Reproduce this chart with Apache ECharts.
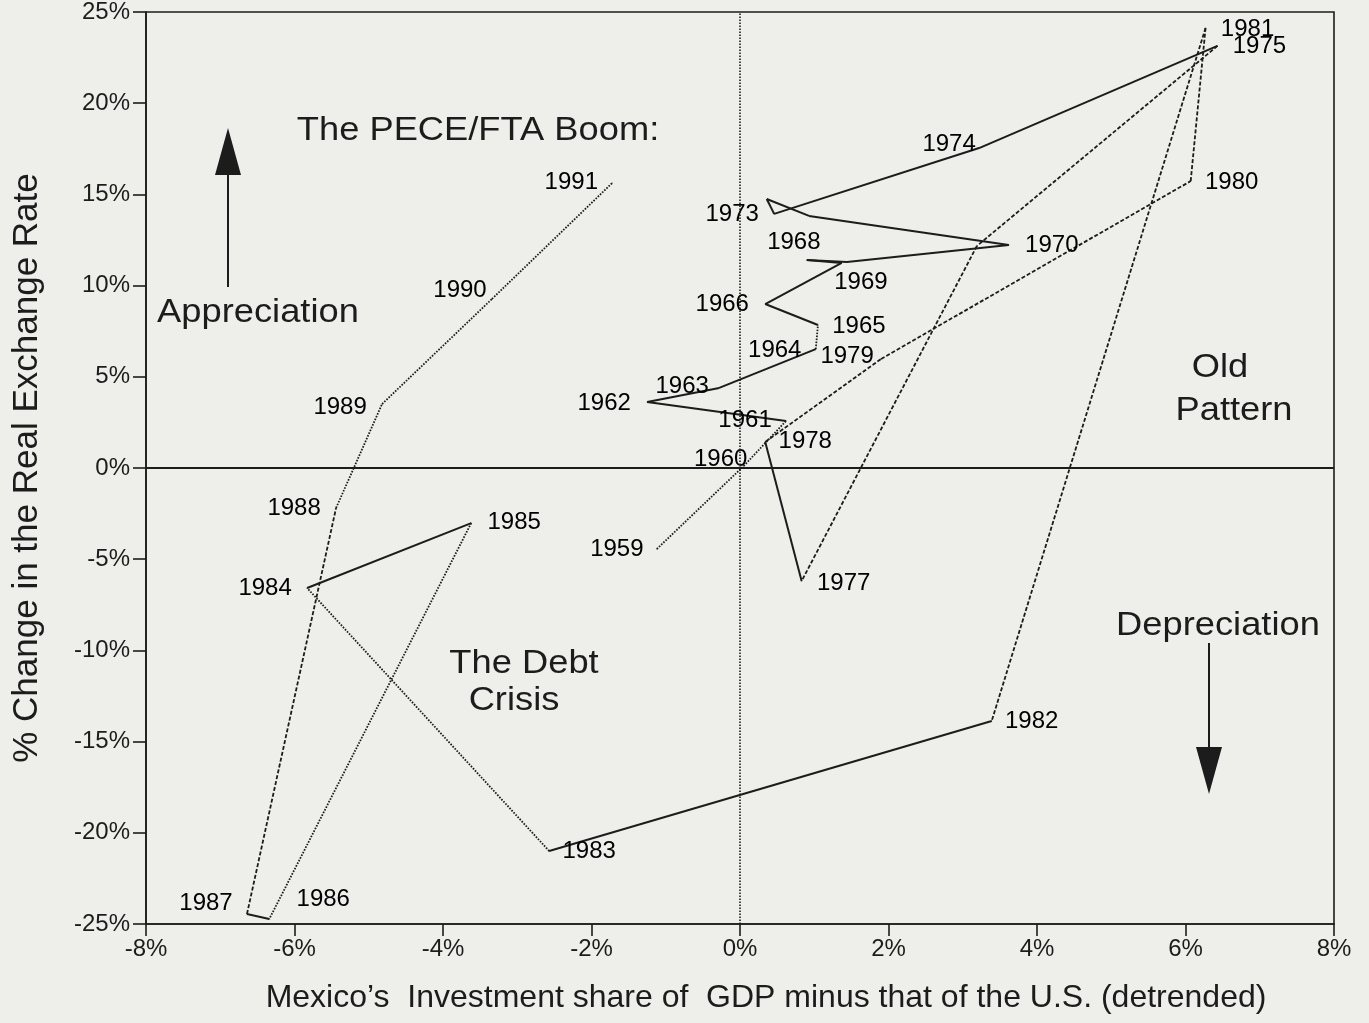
<!DOCTYPE html>
<html>
<head>
<meta charset="utf-8">
<script src="https://cdn.jsdelivr.net/npm/echarts@6/dist/echarts.min.js"></script>
<style>
  html, body { margin: 0; padding: 0; background: #eeeeea; }
  #chart { width: 1369px; height: 1023px; }
</style>
</head>
<body>
<div id="chart"></div>
<script>
// years along the path
const years = [1959, 1960, 1961, 1962, 1963, 1964, 1965, 1966, 1967, 1968, 1969,
  1970, 1971, 1972, 1973, 1974, 1975, 1976, 1977, 1978, 1979, 1980,
  1981, 1982, 1983, 1984, 1985, 1986, 1987, 1988, 1989, 1990, 1991]
// investment share of GDP minus the U.S. (detrended), %
const investGap = [-1.12, 0.05, 0.62, -1.25, -0.28, 1.02, 1.05, 0.34, 1.37, 0.90, 1.44,
  3.62, 0.93, 0.36, 0.46, 3.22, 6.43, 3.19, 0.83, 0.34, 1.90, 6.07,
  6.27, 3.39, -2.57, -5.83, -3.62, -6.34, -6.64, -5.44, -4.82, -3.34, -1.72]
// % change in the real exchange rate
const rerChange = [-4.44, 0.11, 2.58, 3.62, 4.39, 6.52, 7.84, 8.99, 11.24, 11.40, 11.29,
  12.23, 13.82, 14.75, 13.93, 17.54, 23.14, 12.17, -6.20, 1.43, 5.98, 15.73,
  24.12, -13.87, -21.0, -6.58, -3.02, -24.73, -24.45, -2.19, 3.51, 9.27, 15.63]

const xTicks = [-8, -6, -4, -2, 0, 2, 4, 6, 8]
const yTicks = [-25, -20, -15, -10, -5, 0, 5, 10, 15, 20, 25]

// line style of the segment starting at that year (default solid)
const dotted = [1959, 1960, 1964, 1983, 1985, 1988, 1989, 1990]
const dashed = [1975, 1976, 1978, 1979, 1980, 1981, 1987]

// where each year's label sits, relative to its point (px)
const labelOffset = {
  1959: [-40, 0], 1960: [-23, -7], 1961: [-41, -1], 1962: [-43, 1], 1963: [-37, -2],
  1964: [-41, 1], 1965: [41, 1], 1966: [-43, 0], 1968: [-13, -18], 1969: [14, 20],
  1970: [43, 0], 1973: [-42, 0], 1974: [-30, -4], 1975: [42, 0], 1977: [42, 2],
  1978: [40, -1], 1979: [-34, -3], 1980: [41, 1], 1981: [42, 1], 1982: [40, 0],
  1983: [40, 0], 1984: [-42, 0], 1985: [43, -1], 1986: [54, -20], 1987: [-41, -11],
  1988: [-42, 0], 1989: [-42, 3], 1990: [-32, -9], 1991: [-41, -1]
}

const FONT = 'Liberation Sans, Arial, Helvetica, sans-serif'
const INK = '#1c1c1c'

const chart = echarts.init(document.getElementById('chart'))

const segments = []
for (let i = 0; i < years.length - 1; i++) {
  const y0 = years[i]
  let type = 'solid', width = 2
  if (dotted.includes(y0)) { type = [1.6, 1.4]; width = 1.8 }
  if (dashed.includes(y0)) { type = [4, 2]; width = 1.8 }
  segments.push({
    type: 'line',
    silent: true,
    symbol: 'none',
    lineStyle: { color: INK, width: width, type: type },
    data: [[investGap[i], rerChange[i]], [investGap[i + 1], rerChange[i + 1]]],
    z: 3
  })
}

const labelData = []
years.forEach((yr, i) => {
  const off = labelOffset[yr]
  if (!off) return
  labelData.push({
    value: [investGap[i], rerChange[i]],
    label: { offset: off, formatter: String(yr) }
  })
})

function arrow(x, yFrom, yTip, up) {
  const base = up ? yTip + 47 : yTip - 47
  return [
    { type: 'line', shape: { x1: x, y1: yFrom, x2: x, y2: base }, style: { stroke: INK, lineWidth: 2 } },
    { type: 'polygon', shape: { points: [[x - 13, base], [x + 13, base], [x, yTip]] }, style: { fill: INK } }
  ]
}

function note(text, x, y) {
  return {
    type: 'text', x: x, y: y, scaleX: 1.1,
    style: { text: text, fill: INK, font: '33px ' + FONT, align: 'center', verticalAlign: 'middle' }
  }
}

chart.setOption({
  backgroundColor: '#eeeeea',
  animation: false,
  textStyle: { fontFamily: FONT },
  grid: { left: 146, top: 12, width: 1188, height: 912, show: true, borderColor: INK, borderWidth: 1.6, backgroundColor: 'transparent' },
  xAxis: {
    type: 'value', min: -8, max: 8, interval: 2,
    axisLine: { show: true, onZero: false, lineStyle: { color: INK, width: 1.6 } },
    axisTick: { show: true, inside: false, length: 12, lineStyle: { color: INK, width: 1.6 } },
    axisLabel: { color: INK, fontSize: 24, margin: 13, formatter: v => xTicks.includes(v) ? v + '%' : '' },
    splitLine: { show: false },
    name: 'Mexico’s  Investment share of  GDP minus that of the U.S. (detrended)',
    nameLocation: 'middle', nameGap: 58,
    nameTextStyle: { color: INK, fontSize: 32, fontFamily: FONT, padding: [0, 0, 0, 52] }
  },
  yAxis: {
    type: 'value', min: -25, max: 25, interval: 5,
    axisLine: { show: true, onZero: false, lineStyle: { color: INK, width: 1.6 } },
    axisTick: { show: true, inside: false, length: 13, lineStyle: { color: INK, width: 1.6 } },
    axisLabel: { color: INK, fontSize: 24, margin: 16, formatter: v => yTicks.includes(v) ? v + '%' : '' },
    splitLine: { show: false },
    name: '% Change in the Real Exchange Rate',
    nameLocation: 'middle', nameGap: 101,
    nameTextStyle: { color: INK, fontSize: 35, fontFamily: FONT }
  },
  series: [
    {
      type: 'line', silent: true, symbol: 'none', data: [],
      markLine: {
        silent: true, symbol: 'none', label: { show: false },
        data: [
          { yAxis: 0, lineStyle: { color: INK, width: 2, type: 'solid' } },
          { xAxis: 0, lineStyle: { color: INK, width: 1.6, type: [1.5, 1.5] } }
        ]
      },
      z: 2
    },
    ...segments,
    {
      type: 'scatter', silent: true, symbolSize: 1,
      itemStyle: { color: INK },
      label: { show: true, position: 'inside', color: '#000', opacity: 1, fontSize: 24, fontFamily: FONT, textBorderWidth: 0 },
      data: labelData,
      z: 4
    }
  ],
  graphic: [
    note('The PECE/FTA Boom:', 478, 131),
    note('Appreciation', 258, 313),
    note('The Debt', 524, 664),
    note('Crisis', 514, 701),
    note('Old', 1220, 368),
    note('Pattern', 1234, 411),
    note('Depreciation', 1218, 626),
    ...arrow(228, 287, 128, true),
    ...arrow(1209, 643, 794, false)
  ]
})
</script>
</body>
</html>
